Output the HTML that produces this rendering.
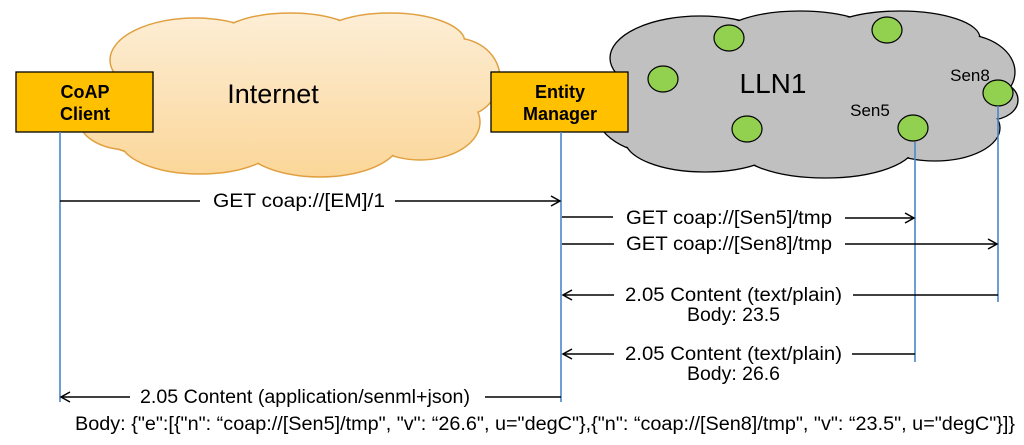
<!DOCTYPE html>
<html><head><meta charset="utf-8"><style>
html,body{margin:0;padding:0;background:#fff;width:1024px;height:445px;overflow:hidden}
svg{display:block}
text{font-family:"Liberation Sans",Arial,sans-serif}
</style></head><body>
<svg width="1024" height="445" viewBox="0 0 1024 445" xmlns="http://www.w3.org/2000/svg">
<defs>
<linearGradient id="g1" gradientUnits="userSpaceOnUse" x1="0" y1="13" x2="0" y2="178"><stop offset="0" stop-color="#fdeed6"/><stop offset="1" stop-color="#fbd698"/></linearGradient>
<marker id="ar" markerWidth="12" markerHeight="12" refX="10" refY="6" orient="auto" markerUnits="userSpaceOnUse"><path d="M1,1 L10,6 L1,11" fill="none" stroke="#000" stroke-width="1.5"/></marker>
</defs>
<!-- Internet cloud -->
<g stroke="#e0a040" stroke-width="1.5" fill="url(#g1)">
<ellipse cx="150" cy="110" rx="65" ry="45"/><ellipse cx="195" cy="60" rx="85" ry="42"/><ellipse cx="290" cy="42" rx="75" ry="29"/><ellipse cx="390" cy="42" rx="75" ry="29"/><ellipse cx="455" cy="78" rx="45" ry="40"/><ellipse cx="420" cy="122" rx="60" ry="38"/><ellipse cx="320" cy="140" rx="80" ry="37"/><ellipse cx="200" cy="140" rx="80" ry="34"/><ellipse cx="130" cy="122" rx="50" ry="28"/>
</g>
<g fill="url(#g1)">
<ellipse cx="150" cy="110" rx="64" ry="44"/><ellipse cx="195" cy="60" rx="84" ry="41"/><ellipse cx="290" cy="42" rx="74" ry="28"/><ellipse cx="390" cy="42" rx="74" ry="28"/><ellipse cx="455" cy="78" rx="44" ry="39"/><ellipse cx="420" cy="122" rx="59" ry="37"/><ellipse cx="320" cy="140" rx="79" ry="36"/><ellipse cx="200" cy="140" rx="79" ry="33"/><ellipse cx="130" cy="122" rx="49" ry="27"/><ellipse cx="290" cy="95" rx="180" ry="55"/>
</g>
<text x="273" y="103" font-size="27" text-anchor="middle">Internet</text>
<!-- LLN cloud -->
<g stroke="#000" stroke-width="1.3" fill="#c0c0c0">
<ellipse cx="665" cy="110" rx="70" ry="45"/><ellipse cx="700" cy="58" rx="90" ry="42"/><ellipse cx="800" cy="38" rx="80" ry="27"/><ellipse cx="900" cy="38" rx="80" ry="27"/><ellipse cx="960" cy="72" rx="55" ry="38"/><ellipse cx="990" cy="100" rx="28" ry="20"/><ellipse cx="935" cy="128" rx="65" ry="33"/><ellipse cx="825" cy="145" rx="90" ry="33"/><ellipse cx="705" cy="140" rx="80" ry="32"/>
</g>
<g fill="#c0c0c0">
<ellipse cx="665" cy="110" rx="69" ry="44"/><ellipse cx="700" cy="58" rx="89" ry="41"/><ellipse cx="800" cy="38" rx="79" ry="26"/><ellipse cx="900" cy="38" rx="79" ry="26"/><ellipse cx="960" cy="72" rx="54" ry="37"/><ellipse cx="990" cy="100" rx="27" ry="19"/><ellipse cx="935" cy="128" rx="64" ry="32"/><ellipse cx="825" cy="145" rx="89" ry="32"/><ellipse cx="705" cy="140" rx="79" ry="31"/><ellipse cx="810" cy="95" rx="190" ry="55"/>
</g>
<text x="773" y="93" font-size="28" text-anchor="middle">LLN1</text>
<text x="870" y="116" font-size="17" text-anchor="middle">Sen5</text>
<text x="970" y="81" font-size="17" text-anchor="middle">Sen8</text>
<g fill="#92d050" stroke="#000" stroke-width="1.2">
<ellipse cx="663" cy="79" rx="15" ry="13"/><ellipse cx="729" cy="38" rx="15" ry="13"/><ellipse cx="887" cy="30" rx="15" ry="13"/><ellipse cx="747" cy="129" rx="15" ry="13"/><ellipse cx="913" cy="128" rx="15" ry="13"/><ellipse cx="998" cy="93" rx="15" ry="13"/>
</g>
<!-- boxes -->
<rect x="16" y="72" width="137" height="60" fill="#ffc000" stroke="#000" stroke-width="1.3"/>
<text x="85" y="98" font-size="18" font-weight="bold" text-anchor="middle">CoAP</text>
<text x="85" y="120" font-size="18" font-weight="bold" text-anchor="middle">Client</text>
<rect x="491" y="72" width="137" height="60" fill="#ffc000" stroke="#000" stroke-width="1.3"/>
<text x="560" y="98" font-size="18" font-weight="bold" text-anchor="middle">Entity</text>
<text x="560" y="120" font-size="18" font-weight="bold" text-anchor="middle">Manager</text>
<!-- lifelines -->
<g stroke="#4a86c8" stroke-width="1.6">
<line x1="60" y1="132" x2="60" y2="402"/><line x1="561" y1="132" x2="561" y2="402"/><line x1="915" y1="142" x2="915" y2="362"/><line x1="998" y1="106" x2="998" y2="302"/>
</g>
<!-- arrows -->
<g stroke="#000" stroke-width="1.5" fill="none">
<line x1="60" y1="201" x2="200" y2="201"/><line x1="395" y1="201" x2="560" y2="201" marker-end="url(#ar)"/>
<line x1="562" y1="217" x2="613" y2="217"/><line x1="845" y1="218" x2="914" y2="218" marker-end="url(#ar)"/>
<line x1="562" y1="244" x2="614" y2="244"/><line x1="845" y1="244" x2="997" y2="244" marker-end="url(#ar)"/>
<line x1="998" y1="295" x2="853" y2="295"/><line x1="614" y1="295" x2="563" y2="295" marker-end="url(#ar)"/>
<line x1="915" y1="354" x2="852" y2="354"/><line x1="614" y1="354" x2="563" y2="354" marker-end="url(#ar)"/>
<line x1="561" y1="397" x2="485" y2="397"/><line x1="130" y1="397" x2="61" y2="397" marker-end="url(#ar)"/>
</g>
<g font-size="19" lengthAdjust="spacingAndGlyphs">
<text x="213" y="207" textLength="172" lengthAdjust="spacingAndGlyphs">GET coap://[EM]/1</text>
<text x="626" y="224" textLength="206" lengthAdjust="spacingAndGlyphs">GET  coap://[Sen5]/tmp</text>
<text x="626" y="250" textLength="206" lengthAdjust="spacingAndGlyphs">GET  coap://[Sen8]/tmp</text>
<text x="625" y="301" textLength="217" lengthAdjust="spacingAndGlyphs">2.05 Content  (text/plain)</text>
<text x="687" y="321" textLength="93" lengthAdjust="spacingAndGlyphs">Body: 23.5</text>
<text x="625" y="360" textLength="217" lengthAdjust="spacingAndGlyphs">2.05 Content  (text/plain)</text>
<text x="687" y="380" textLength="93" lengthAdjust="spacingAndGlyphs">Body: 26.6</text>
<text x="140" y="403" textLength="330" lengthAdjust="spacingAndGlyphs">2.05 Content (application/senml+json)</text>
<text x="75" y="430" textLength="940" lengthAdjust="spacingAndGlyphs">Body: {"e":[{"n": “coap://[Sen5]/tmp", "v": “26.6", u="degC"},{"n": “coap://[Sen8]/tmp", "v": “23.5", u="degC"}]}</text>
</g>
</svg>
</body></html>
